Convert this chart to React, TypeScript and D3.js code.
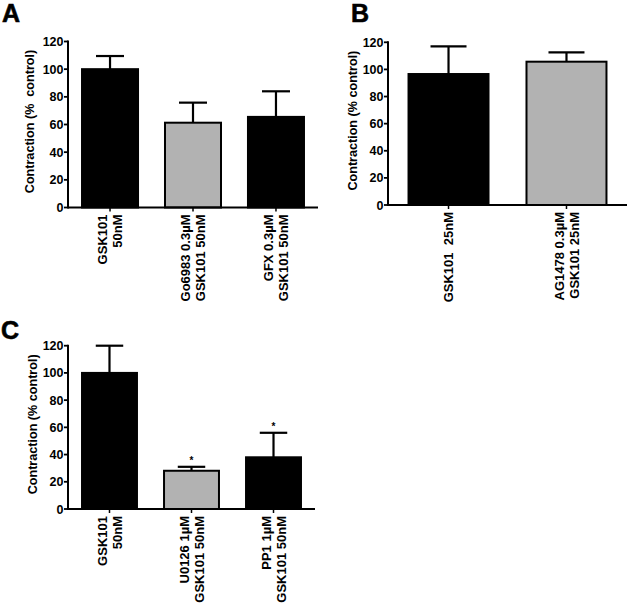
import React from "react";
import * as d3 from "d3";

// Panel A
const catsA = [["GSK101", "50nM"], ["Go6983 0.3µM", "GSK101 50nM"], ["GFX 0.3µM", "GSK101 50nM"]];
const meanA = [100, 61.3, 65.5];
const errA = [109.5, 75.8, 84];
const fillA = ["black", "gray", "black"];

// Panel B
const catsB = [["GSK101  25nM"], ["AG1478 0.3µM", "GSK101 25nM"]];
const meanB = [96.6, 105.7];
const errB = [117, 112.6];
const fillB = ["black", "gray"];

// Panel C
const catsC = [["GSK101", "50nM"], ["U0126 1µM", "GSK101 50nM"], ["PP1 1µM", "GSK101 50nM"]];
const meanC = [100, 28.1, 38];
const errC = [120, 31, 56];
const fillC = ["black", "gray", "black"];
const starC = [false, true, true];

const yTicks = [0, 20, 40, 60, 80, 100, 120];

const FONT = "'Liberation Sans', Arial, sans-serif";
const GRAY = "#b2b2b2";

type PanelProps = {
  letter: string;
  letterX: number;
  letterY: number;
  x0: number;
  x1: number;
  yBottom: number;
  yTop: number;
  cats: string[][];
  mean: number[];
  err: number[];
  fills: string[];
  stars?: boolean[];
  padInner: number;
  padOuter: number;
  yLabel: string;
  yLabelX: number;
  capFrac: number;
};

function Panel(p: PanelProps) {
  const x = d3
    .scaleBand<number>()
    .domain(d3.range(p.cats.length))
    .range([p.x0, p.x1])
    .paddingInner(p.padInner)
    .paddingOuter(p.padOuter);
  const y = d3.scaleLinear().domain([0, 120]).range([p.yBottom, p.yTop]);
  const bw = x.bandwidth();
  const cap = bw * p.capFrac;
  return (
    <g>
      <text x={p.letterX} y={p.letterY} fontFamily={FONT} fontWeight="bold" fontSize={25} stroke="black" strokeWidth={0.6}>
        {p.letter}
      </text>
      {/* bars */}
      {p.mean.map((m, i) => {
        const cx = (x(i) as number) + bw / 2;
        return (
          <g key={i}>
            <line x1={cx} x2={cx} y1={y(m)} y2={y(p.err[i])} stroke="black" strokeWidth={2.2} />
            <line x1={cx - cap / 2} x2={cx + cap / 2} y1={y(p.err[i])} y2={y(p.err[i])} stroke="black" strokeWidth={2.2} />
            <rect
              x={x(i) as number}
              y={y(m)}
              width={bw}
              height={y(0) - y(m)}
              fill={p.fills[i] === "gray" ? GRAY : "black"}
              stroke="black"
              strokeWidth={2}
            />
            {p.stars && p.stars[i] && (
              <text x={cx} y={y(p.err[i]) - 3} textAnchor="middle" fontFamily={FONT} fontWeight="bold" fontSize={10}>
                *
              </text>
            )}
            <line x1={cx} x2={cx} y1={y(0)} y2={y(0) + 4} stroke="black" strokeWidth={1.5} />
            {p.cats[i].map((ln, j) => {
              const n = p.cats[i].length;
              const bx = cx + (j - (n - 1) / 2) * 15 + 4.8;
              const by = y(0) + 7;
              return (
                <text
                  key={j}
                  transform={`translate(${bx},${by}) rotate(-90)`}
                  textAnchor="end"
                  fontFamily={FONT}
                  fontWeight="bold"
                  fontSize={13}
                  style={{ whiteSpace: "pre" }}
                >
                  {ln}
                </text>
              );
            })}
          </g>
        );
      })}
      {/* axes */}
      <line x1={p.x0} x2={p.x1} y1={y(0)} y2={y(0)} stroke="black" strokeWidth={2} />
      <line x1={p.x0} x2={p.x0} y1={y(0) + 1} y2={y(120) - 1} stroke="black" strokeWidth={2} />
      {yTicks.map((t) => (
        <g key={t}>
          <line x1={p.x0 - 4} x2={p.x0} y1={y(t)} y2={y(t)} stroke="black" strokeWidth={1.8} />
          <text
            x={p.x0 - 4.5}
            y={y(t) + 4.5}
            textAnchor="end"
            fontFamily={FONT}
            fontWeight="bold"
            fontSize={12.5}
          >
            {t}
          </text>
        </g>
      ))}
      <text
        transform={`translate(${p.yLabelX},${(p.yBottom + p.yTop) / 2 - 3}) rotate(-90)`}
        textAnchor="middle"
        fontFamily={FONT}
        fontWeight="bold"
        fontSize={12.6}
        style={{ whiteSpace: "pre" }}
      >
        {p.yLabel}
      </text>
    </g>
  );
}

export default function App() {
  return (
    <svg
      width={629}
      height={604}
      style={{ position: "absolute", left: 0, top: 0, background: "white" }}
    >
      <rect width={629} height={604} fill="white" />
      <Panel
        letter="A"
        letterX={2}
        letterY={22}
        x0={68}
        x1={318}
        yBottom={207.5}
        yTop={41.5}
        cats={catsA}
        mean={meanA}
        err={errA}
        fills={fillA}
        padInner={0.325}
        padOuter={0.169}
        yLabel="Contraction (%  control)"
        yLabelX={33.5}
        capFrac={0.5}
      />
      <Panel
        letter="B"
        letterX={351}
        letterY={22}
        x0={388}
        x1={627}
        yBottom={205}
        yTop={42.3}
        cats={catsB}
        mean={meanB}
        err={errB}
        fills={fillB}
        padInner={0.322}
        padOuter={0.174}
        yLabel="Contraction (% control)"
        yLabelX={357}
        capFrac={0.45}
      />
      <Panel
        letter="C"
        letterX={1}
        letterY={339}
        x0={68}
        x1={315}
        yBottom={509}
        yTop={345.7}
        cats={catsC}
        mean={meanC}
        err={errC}
        fills={fillC}
        stars={starC}
        padInner={0.33}
        padOuter={0.171}
        yLabel="Contraction (% control)"
        yLabelX={37}
        capFrac={0.5}
      />
    </svg>
  );
}
